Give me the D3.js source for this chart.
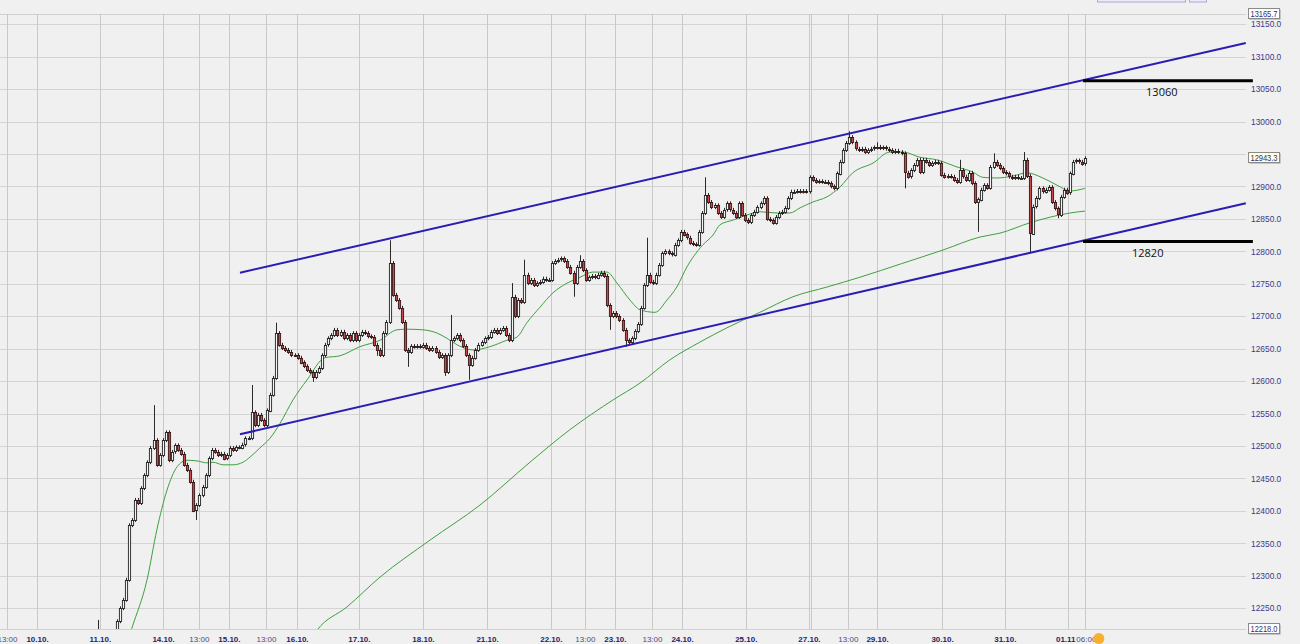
<!DOCTYPE html>
<html><head><meta charset="utf-8">
<script src="https://cdn.jsdelivr.net/npm/d3@7"></script>
<style>body{margin:0;background:#f0f0f0;overflow:hidden}svg{display:block}</style>
</head><body><svg id="c" width="1300" height="644"></svg>
<script>
// ---------- DATA ----------
const firstIdx = 20;       // slot of first candle
const openStart = 12210;
const closes = [
 12205,12200,12196,12203,12199,12207,12230,12250,12263,12294,12378,12386,12417,12412,12435,12455,12475,12497,12509,12471,12486,12509,
 12521,12478,12491,12501,12494,12488,12471,12463,12445,12401,12409,12424,12437,12455,12481,12494,12491,12486,12488,12481,12486,
 12497,12494,12498,12498,12502,12512,12512,12552,12532,12548,12540,12532,12555,12579,12605,12674,12656,12651,12648,12645,12640,12640,
 12636,12629,12623,12617,12614,12606,12614,12620,12640,12656,12666,12671,12679,12671,12676,12666,12671,12663,12674,12663,
 12671,12676,12674,12669,12668,12656,12648,12640,12674,12691,12782,12733,12725,12713,12691,12648,12645,12654,12653,12654,12653,
 12656,12651,12648,12651,12645,12637,12640,12614,12640,12663,12666,12671,12663,12654,12640,12625,12636,12648,12656,12660,12666,
 12668,12676,12679,12674,12679,12682,12671,12663,12730,12700,12725,12722,12764,12751,12756,12748,12751,12753,12758,12756,12756,
 12782,12785,12787,12789,12785,12776,12767,12751,12776,12785,12771,12756,12760,12762,12760,12764,12767,12762,12717,12700,12705,
 12700,12694,12679,12663,12660,12666,12677,12688,12713,12748,12764,12753,12751,12764,12779,12797,12800,12797,12795,12810,12817,
 12830,12826,12821,12813,12811,12810,12830,12859,12887,12876,12868,12871,12859,12853,12864,12874,12864,12859,12853,12874,12856,
 12848,12845,12856,12861,12868,12874,12882,12850,12848,12844,12853,12859,12861,12867,12882,12892,12892,12893,12892,12893,12892,
 12914,12910,12907,12908,12907,12907,12905,12900,12897,12920,12938,12956,12967,12976,12968,12958,12956,12958,12953,12956,12958,12960,
 12961,12959,12960,12958,12956,12953,12955,12953,12951,12921,12915,12925,12933,12941,12922,12941,12938,12933,12936,12938,12936,
 12918,12915,12916,12915,12910,12907,12925,12915,12910,12921,12905,12876,12880,12895,12902,12898,12930,12938,12933,12928,12922,
 12920,12915,12913,12915,12913,12913,12941,12916,12828,12869,12882,12897,12892,12895,12899,12876,12866,12856,12884,12895,12890,
 12920,12938,12940,12938,12935,12943.3
];
const highSpikes = [[20,12232],[38,12563],[70,12594],[78,12690],[115,12817],[135,12702],[155,12751],[159,12787],[177,12794],[199,12821],[218,12914],[265,12985],[274,12968],[301,12941],[312,12951],[322,12953]];
const lowSpikes = [[52,12386],[90,12599],[111,12639],[121,12622],[133,12608],[141,12602],[175,12730],[187,12679],[192,12653],[283,12897],[307,12830],[324,12797],[333,12851]];
const WICK = 3;

const fastSlots = [29,31,35.9,39.1,42.4,45.7,48.9,52.2,55.4,57.4,60.7,63.9,67.2,69.5,72.7,76,79.3,83.5,88.1,93.9,98.8,105.3,111.9,117.4,120.7,125.9,130.5,133.7,137,142.2,147.7,153.3,156.6,159.8,164.1,168.3,172.9,177.1,181.3,185.9,189.2,193.4,196.7,201.6,205.5,208.7,212,214,217.2,220.5,222.8,227,231.6,235.8,241.4,245.6,248.9,253.1,257.7,261.9,266.1,272.7,278.2,282.5,288,293.5,300.1,305.3,308.5,313.1,318.3,322.9,328.1,332.7,336.9,341.8];
const fastVals = [12190,12220,12294,12371,12432,12468,12478,12477,12474,12475,12471,12471,12475,12483,12497,12512,12535,12571,12602,12636,12639,12653,12663,12679,12680,12679,12674,12666,12656,12648,12653,12663,12668,12690,12714,12736,12751,12760,12768,12768,12751,12725,12710,12706,12725,12745,12776,12791,12810,12825,12841,12848,12856,12861,12859,12859,12867,12876,12884,12899,12921,12936,12953,12953,12945,12941,12930,12922,12914,12913,12916,12921,12913,12902,12893,12897];

const slowSlots = [89,91.3,101.1,111.9,128.2,144.5,160.8,173.8,187.9,196.7,206.5,216.2,225,235.8,246.6,257.7,268.4,282,295.5,307.6,314.1,323.9,336.9,341.8];
const slowVals = [12200,12216,12252,12298,12355,12409,12475,12525,12571,12597,12633,12660,12682,12706,12730,12745,12760,12781,12802,12822,12828,12844,12859,12862];

const channelSlots = [66.2, 394.3];
const upperVals = [12767, 13121];
const lowerVals = [12518, 12874];

const levelVals = [13063, 12815];
const levelLabels = ["13060", "12820"];
const levelSlots = [341.2, 396.6];
const levelLabelSlots = [366.9, 362.3];

const xTickSlots = [-9.8,0,20.5,41.1,52.8,62.6,74.7,84.8,105.0,125.9,146.8,167.6,178.7,188.5,200.6,210.4,231.2,251.8,252.5,264.5,274.0,295.2,315.7,336.3,341.8];
const xTickLabels = ["13:00","10.10.","11.10.","14.10.","13:00","15.10.","13:00","16.10.","17.10.","18.10.","21.10.","22.10.","13:00","23.10.","13:00","24.10.","25.10.","27.10.","","13:00","29.10.","30.10.","31.10.","01.11","06:00"];

const yTickValues = [12250,12300,12350,12400,12450,12500,12550,12600,12650,12700,12750,12800,12850,12900,12950,13000,13050,13100,13150];
const yDomain = [12218, 13165.7];
const lastPrice = 12943.3;

// ---------- CHART ----------
const W = 1300, H = 644;
const svg = d3.select('#c');
const PL = 0, PR = 1246, PT = 14, PB = 629;
const x = d3.scaleLinear().domain([-12.07, 394.36]).range([PL, PR]);
const y = d3.scaleLinear().domain(yDomain).range([PB, PT]);
const FONT = '"Liberation Sans", Arial, sans-serif';

svg.append('rect').attr('width', W).attr('height', H).attr('fill', '#f0f0f0');

// top widget fragments
svg.append('rect').attr('x', 1097.5).attr('y', -10).attr('width', 88).attr('height', 12).attr('fill', '#ececf6').attr('stroke', '#a8a8d8');
svg.append('rect').attr('x', 1189.5).attr('y', -10).attr('width', 17).attr('height', 12).attr('fill', '#ececf6').attr('stroke', '#a8a8d8');

// grid
const grid = svg.append('g');
grid.selectAll('line.h').data(yTickValues).join('line')
  .attr('x1', PL).attr('x2', PR)
  .attr('y1', d => Math.round(y(d)) + 0.5).attr('y2', d => Math.round(y(d)) + 0.5)
  .attr('stroke', '#d4d4d4');
grid.append('line').attr('x1', PL).attr('x2', PR).attr('y1', PT + 0.5).attr('y2', PT + 0.5).attr('stroke', '#d0d0d0');
grid.append('line').attr('x1', PL).attr('x2', PR).attr('y1', PB + 0.5).attr('y2', PB + 0.5).attr('stroke', '#d0d0d0');
grid.selectAll('line.v').data(xTickSlots).join('line')
  .attr('x1', d => Math.round(x(d)) + 0.5).attr('x2', d => Math.round(x(d)) + 0.5)
  .attr('y1', PT).attr('y2', PB)
  .attr('stroke', '#c9c9c9');

// clip
svg.append('clipPath').attr('id', 'clip').append('rect').attr('x', PL).attr('y', PT).attr('width', PR - PL).attr('height', PB - PT);
const plot = svg.append('g').attr('clip-path', 'url(#clip)');

// moving averages
const line = d3.line().x(d => x(d[0])).y(d => y(d[1])).curve(d3.curveMonotoneX);
plot.append('path').datum(slowSlots.map((s, i) => [s, slowVals[i]]))
  .attr('d', line).attr('fill', 'none').attr('stroke', '#3f9f3f').attr('stroke-width', 1);
plot.append('path').datum(fastSlots.map((s, i) => [s, fastVals[i]]))
  .attr('d', line).attr('fill', 'none').attr('stroke', '#3f9f3f').attr('stroke-width', 1);

// candles
const hiMap = new Map(highSpikes), loMap = new Map(lowSpikes);
const candles = closes.map((c, k) => {
  const i = firstIdx + k;
  const o = k === 0 ? openStart : closes[k - 1];
  const hi = hiMap.has(i) ? hiMap.get(i) : Math.max(o, c) + WICK;
  const lo = loMap.has(i) ? loMap.get(i) : Math.min(o, c) - WICK;
  return { i, o, c, hi, lo };
});
const cg = plot.append('g');
cg.selectAll('line').data(candles).join('line')
  .attr('x1', d => Math.round(x(d.i)) + 0.5).attr('x2', d => Math.round(x(d.i)) + 0.5)
  .attr('y1', d => y(d.hi)).attr('y2', d => y(d.lo))
  .attr('stroke', '#2a2a2a').attr('stroke-width', 1);
cg.selectAll('rect').data(candles).join('rect')
  .attr('x', d => Math.round(x(d.i)) - 0.6)
  .attr('width', 2.2)
  .attr('y', d => Math.round(y(Math.max(d.o, d.c))) + 0.5)
  .attr('height', d => Math.max(1, Math.round(Math.abs(y(d.o) - y(d.c)))))
  .attr('fill', d => d.c >= d.o ? '#f4f4f4' : '#c44b4b')
  .attr('stroke', d => d.c >= d.o ? '#222' : '#3a1414').attr('stroke-width', 0.9);

// channel lines
const chLine = d3.line().x(d => x(d[0])).y(d => y(d[1]));
[upperVals, lowerVals].forEach(vals => {
  svg.append('path').datum(channelSlots.map((s, i) => [s, vals[i]]))
    .attr('d', chLine).attr('fill', 'none').attr('stroke', '#2b1db4').attr('stroke-width', 2);
});

// level lines
levelVals.forEach((v, k) => {
  svg.append('line')
    .attr('x1', x(levelSlots[0])).attr('x2', x(levelSlots[1]))
    .attr('y1', y(v)).attr('y2', y(v))
    .attr('stroke', '#000').attr('stroke-width', 3);
  svg.append('text').attr('x', x(levelLabelSlots[k])).attr('y', y(v) + 15)
    .attr('text-anchor', 'middle').attr('font-family', '"Open Sans", "Liberation Sans", sans-serif')
    .attr('font-size', 11).attr('fill', '#111').text(levelLabels[k]);
});

// y axis (labels hidden behind the last-price box are left out)
const yAxis = d3.axisRight(y).tickValues(yTickValues)
  .tickFormat(d => Math.abs(y(d) - y(lastPrice)) < 9 ? '' : d.toFixed(1))
  .tickSize(0).tickPadding(0);
const ya = svg.append('g').attr('transform', `translate(1251,0)`).call(yAxis);
ya.select('.domain').remove();
ya.selectAll('text').attr('font-family', FONT).attr('font-size', 8.4).attr('fill', '#3a3a8c');

// boxed price labels
function boxLabel(v, fill) {
  const cy = Math.round(y(v));
  const g = svg.append('g');
  g.append('rect').attr('x', 1249.5).attr('y', cy - 4.5).attr('width', 31).attr('height', 10).attr('fill', '#9a9a9a');
  g.append('rect').attr('x', 1248.5).attr('y', cy - 5.5).attr('width', 31).attr('height', 10).attr('fill', fill).attr('stroke', '#8a8a8a');
  g.append('text').attr('x', 1250.5).attr('y', cy + 2.5).attr('font-family', FONT).attr('font-size', 8.2)
    .attr('textLength', 27).attr('lengthAdjust', 'spacingAndGlyphs')
    .attr('fill', '#2e2e7a').text(v.toFixed(1));
}
boxLabel(yDomain[1], '#ffffff');
boxLabel(yDomain[0], '#ffffff');
boxLabel(lastPrice, '#ffffe0');

// x axis
const xAxis = d3.axisBottom(x).tickValues(xTickSlots).tickFormat((d, i) => xTickLabels[i]).tickSize(0).tickPadding(0);
const xa = svg.append('g').attr('transform', `translate(0,636)`).call(xAxis);
xa.select('.domain').remove();
const nT = xTickLabels.length;
xa.selectAll('text').attr('font-family', FONT).attr('font-size', 8)
  .attr('font-weight', (d, i) => xTickLabels[i].includes('.') ? 'bold' : 'normal')
  .attr('fill', (d, i) => xTickLabels[i].includes('.') ? '#1e1e6e' : '#4a4a88')
  .attr('text-anchor', (d, i) => i === nT - 2 ? 'end' : (i === nT - 1 ? 'start' : 'middle'))
  .attr('dx', (d, i) => i === nT - 2 ? 7 : (i === nT - 1 ? -9 : 0));

// orange status icon
const icx = x(xTickSlots[nT - 1]) + 14;
svg.append('circle').attr('cx', icx).attr('cy', 638.5).attr('r', 5.5).attr('fill', '#f6b130');
</script></body></html>
